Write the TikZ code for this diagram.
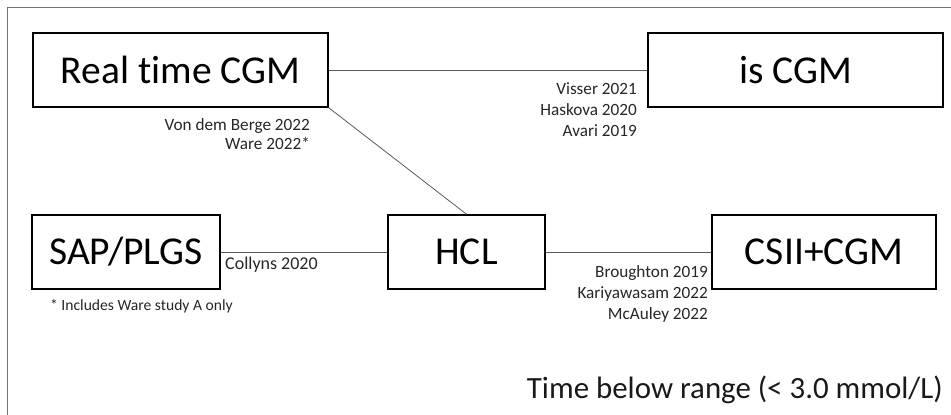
\documentclass[tikz,border=0pt]{standalone}
\usepackage{fontspec}
\setmainfont[Ligatures=NoCommon]{Carlito}
\begin{document}
\begin{tikzpicture}[x=1pt,y=-1pt,
  box/.style={draw=black,line width=1.6pt,minimum height=74pt,inner sep=0pt,font=\fontsize{39.5}{42}\selectfont},
  link/.style={draw=black!65,line width=0.8pt},
  cite/.style={font=\fontsize{17.2}{21}\selectfont,text=black!85,inner sep=0pt,align=right},
  frame/.style={draw=black!55,line width=0.9pt}]
\useasboundingbox (0,0) rectangle (951,415);
% outer frame (top and left edges visible)
\draw[frame] (7,415) -- (7,7) -- (951,7);
% treatment boxes
\node[box,minimum width=295pt] (rt) at (180.5,70) {Real time CGM};
\node[box,minimum width=295pt] (is) at (795.5,70) {is CGM};
\node[box,minimum width=188pt] (sap) at (126,252) {SAP/PLGS};
\node[box,minimum width=157pt] (hcl) at (466.5,252) {HCL};
\node[box,minimum width=224pt] (csii) at (824,252) {CSII+CGM};
% comparisons
\draw[link] (rt.east) -- (is.west);
\draw[link] (rt.south east) -- (hcl.north);
\draw[link] (sap.east) -- (hcl.west);
\draw[link] (hcl.east) -- (csii.west);
% study labels
\node[cite,anchor=north east,font=\fontsize{17.2}{19}\selectfont] (l1) at (310,118) {Von dem Berge 2022\\Ware 2022*};
\node[cite,anchor=north east] (l2) at (637,82) {Visser 2021\\Haskova 2020\\Avari 2019};
\node[cite,anchor=west,font=\fontsize{18}{21}\selectfont] (l3) at (225,265) {Collyns 2020};
\node[cite,anchor=north east] (l4) at (708,265) {Broughton 2019\\Kariyawasam 2022\\McAuley 2022};
\node[cite,anchor=west,font=\fontsize{15.6}{18}\selectfont] (fn) at (50,306) {* Includes Ware study A only};
\node[anchor=east,inner sep=0pt,font=\fontsize{30.9}{34}\selectfont,text=black!90] (title) at (943,390) {Time below range (< 3.0 mmol/L)};
\end{tikzpicture}
\end{document}
